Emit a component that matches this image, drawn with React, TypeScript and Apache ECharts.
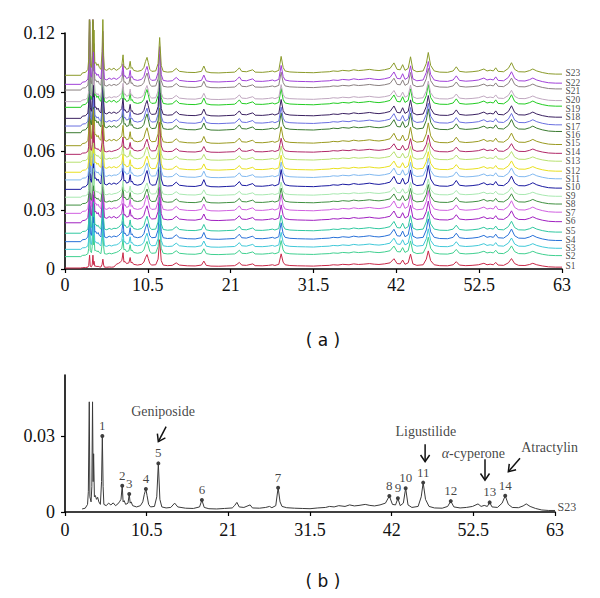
import React, { useEffect, useRef } from "react";
import * as echarts from "echarts";

// ---------- data ----------
const xTickInterval = 10.5;
const xMax = 63;
const yMaxA = 0.12;
const yIntervalA = 0.03;
const yTicksB = [0, 0.03];

// chromatogram profile of the reference sample (time min, absorbance AU)
const profile: [number, number][] = [
  [0, 0], [2.0, 0], [2.2, 0.0012], [2.6, 0.0015], [2.9, 0.003], [3.0, 0.008], [3.12, 0.0435],
  [3.2, 0.006], [3.35, 0.004], [3.45, 0.01], [3.54, 0.0435], [3.62, 0.012], [3.68, 0.023],
  [3.78, 0.006], [3.9, 0.0065], [4.05, 0.005], [4.2, 0.0058], [4.35, 0.004], [4.55, 0.003],
  [4.7, 0.012], [4.8, 0.03], [4.9, 0.01], [5.0, 0.003], [5.3, 0.0025], [5.6, 0.0035],
  [5.9, 0.0028], [6.2, 0.0036], [6.5, 0.0025], [6.8, 0.0032], [7.0, 0.004], [7.2, 0.005],
  [7.36, 0.0104], [7.47, 0.004], [7.6, 0.0045], [7.8, 0.003], [8.1, 0.0035], [8.26, 0.0071],
  [8.38, 0.0035], [8.5, 0.004], [8.7, 0.0025], [9.2, 0.002], [9.7, 0.0025], [10.0, 0.004],
  [10.2, 0.007], [10.4, 0.0091], [10.55, 0.0065], [10.75, 0.003], [11.0, 0.002], [11.5, 0.0022],
  [11.8, 0.006], [12.0, 0.0192], [12.2, 0.005], [12.45, 0.002], [13.0, 0.0016], [13.6, 0.0018],
  [14.1, 0.0035], [14.5, 0.002], [15.5, 0.0015], [16.5, 0.0014], [17.3, 0.002], [17.6, 0.0047],
  [17.9, 0.0018], [18.5, 0.0013], [19.5, 0.0012], [20.5, 0.0014], [21.5, 0.0016], [21.8, 0.0025],
  [22.1, 0.0038], [22.4, 0.002], [23.0, 0.0018], [23.8, 0.0028], [24.1, 0.0016], [25.0, 0.0015],
  [25.8, 0.0018], [26.3, 0.0022], [26.6, 0.0017], [27.1, 0.0025], [27.4, 0.0096], [27.65, 0.004],
  [27.9, 0.0022], [28.5, 0.0017], [29.5, 0.0015], [30.5, 0.0014], [31.5, 0.0013], [32.5, 0.0016],
  [33.5, 0.0018], [34.0, 0.0022], [34.6, 0.002], [35.2, 0.0025], [36.0, 0.0022], [36.6, 0.0028],
  [37.2, 0.0024], [37.8, 0.0026], [38.6, 0.003], [39.2, 0.0026], [39.8, 0.0024], [40.5, 0.0028],
  [41.2, 0.0035], [41.7, 0.0063], [42.1, 0.003], [42.5, 0.0028], [42.8, 0.0054], [43.1, 0.0025],
  [43.5, 0.0035], [43.8, 0.0094], [44.1, 0.0028], [44.6, 0.0018], [45.4, 0.0022], [45.8, 0.006],
  [46.05, 0.0116], [46.35, 0.005], [46.8, 0.0022], [47.5, 0.0016], [48.5, 0.0015], [49.2, 0.0022],
  [49.6, 0.0043], [50.0, 0.002], [50.8, 0.0016], [51.6, 0.0018], [52.4, 0.0022], [53.1, 0.0032],
  [53.5, 0.0022], [53.9, 0.0026], [54.3, 0.0022], [54.6, 0.0038], [54.9, 0.002], [55.6, 0.0018],
  [56.2, 0.0035], [56.6, 0.0064], [57.0, 0.003], [57.5, 0.0018], [58.3, 0.0017], [58.9, 0.0024],
  [59.3, 0.0032], [59.8, 0.0022], [60.5, 0.0014], [61.3, 0.0008], [62.2, 0.0006], [63.0, 0.0006],
];

const sampleNames = [
  "S1", "S2", "S3", "S4", "S5", "S6", "S7", "S8", "S9", "S10", "S11", "S12",
  "S13", "S14", "S15", "S16", "S17", "S18", "S19", "S20", "S21", "S22", "S23",
];
const sampleColors = [
  "#c82848", "#40d090", "#40c8d8", "#2870d8", "#30c8a0", "#a020c0", "#d060e0", "#409040",
  "#a8e8b0", "#1a1aa0", "#80b8f0", "#e8e020", "#b8e070", "#b02868", "#9a9a20", "#3a7a30",
  "#6a70e0", "#3a2060", "#22cc22", "#c0a8c0", "#8a8080", "#a040d8", "#8a9a2a",
];
// baseline offsets of each stacked trace
const sampleOffsets = [
  0.0005, 0.0063, 0.01, 0.0139, 0.0182, 0.0235, 0.0283, 0.0325, 0.0365, 0.0405, 0.0453, 0.0492,
  0.0543, 0.0583, 0.0627, 0.0693, 0.0727, 0.0766, 0.0822, 0.0851, 0.091, 0.0939, 0.0985,
];
// relative size of the early (< 6.5 min) peaks and of the later peaks in each sample
const sampleEarlyScale = [
  0.15, 0.5, 0.6, 0.8, 0.7, 0.9, 0.8, 0.6, 0.5, 0.9, 0.7, 0.8,
  0.6, 0.5, 0.9, 1.0, 0.8, 0.9, 1.0, 0.7, 0.8, 0.9, 1.0,
];
const samplePeakScale = [
  0.75, 0.85, 0.9, 1.0, 0.95, 0.95, 1.0, 0.9, 0.8, 1.05, 0.95, 0.9,
  0.85, 0.85, 1.0, 1.05, 1.0, 1.0, 1.0, 0.9, 0.95, 1.0, 1.0,
];
const sampleLabelY = [
  0.0017, 0.0066, 0.0105, 0.0147, 0.0195, 0.0243, 0.0286, 0.0331, 0.0373, 0.0418, 0.0458, 0.05,
  0.0549, 0.0596, 0.0639, 0.0681, 0.0724, 0.0774, 0.0815, 0.0859, 0.0907, 0.0944, 0.0995,
];

// panel (b): numbered peaks
const peakNumbers = ["1", "2", "3", "4", "5", "6", "7", "8", "9", "10", "11", "12", "13", "14"];
const peakTimes = [4.8, 7.36, 8.26, 10.4, 12.0, 17.6, 27.4, 41.7, 42.8, 43.8, 46.05, 49.6, 54.6, 56.6];
const peakHeights = [0.03, 0.0104, 0.0071, 0.0091, 0.0192, 0.0047, 0.0096, 0.0063, 0.0054, 0.0094, 0.0116, 0.0043, 0.0038, 0.0064];

// panel (b): compound annotations
const compoundNames = ["Geniposide", "Ligustilide", "α-cyperone", "Atractylin"];
const compoundTextPos: [number, number][] = [[12.6, 0.0396], [46.4, 0.0317], [52.5, 0.0232], [62.3, 0.0256]];
const compoundArrows: [number, number, number, number][] = [
  [13.0, 0.0337, 12.0, 0.0278],
  [46.3, 0.0268, 46.3, 0.0199],
  [54.0, 0.0208, 54.0, 0.0126],
  [58.5, 0.0212, 57.0, 0.0159],
];
const referenceName = "S23";
const referenceLabelY = 0.0021;

// ---------- chart ----------
const serif = "'Liberation Serif', 'Times New Roman', serif";
const ink = "#111111";

function axisCommon(fontSize: number, margin: number) {
  return {
    axisLine: { show: true, onZero: false, lineStyle: { color: "#000", width: 1.6 } },
    axisTick: { show: true, length: 4, lineStyle: { color: "#000", width: 1.2 } },
    axisLabel: { fontFamily: serif, fontSize, color: ink, margin },
    splitLine: { show: false },
  };
}

function richLabel(fontSize: number, italicFirst = false) {
  return {
    t: { fontFamily: serif, fontSize, color: ink },
    i: { fontFamily: serif, fontSize, color: ink, fontStyle: italicFirst ? "italic" : "normal" },
  };
}

export default function App() {
  const ref = useRef<HTMLDivElement>(null);

  useEffect(() => {
    if (!ref.current) return;
    const chart = echarts.init(ref.current, null, { renderer: "svg" });

    const topYMaxClip = (yMaxA * (269 - 20)) / (269 - 33);

    const sampleSeries = sampleNames.map((name, i) => ({
      type: "line",
      name,
      xAxisIndex: 1,
      yAxisIndex: 1,
      data: profile.map(([t, v]) => [t, sampleOffsets[i] + (t < 6.5 ? sampleEarlyScale[i] : samplePeakScale[i]) * v]),
      symbol: "none",
      showSymbol: false,
      lineStyle: { color: sampleColors[i], width: 1 },
      clip: true,
      silent: true,
      z: 2,
    }));

    const option: any = {
      animation: false,
      backgroundColor: "#fff",
      textStyle: { fontFamily: serif, color: ink },
      grid: [
        { left: 65, right: 38, top: 33, bottom: 329 },
        { left: 65, right: 38, top: 20, bottom: 329 },
        { left: 65, right: 45, top: 375, bottom: 86 },
      ],
      xAxis: [
        { gridIndex: 0, type: "value", min: 0, max: xMax, interval: xTickInterval, ...axisCommon(18, 7) },
        { gridIndex: 1, type: "value", min: 0, max: xMax, show: false },
        { gridIndex: 2, type: "value", min: 0, max: xMax, interval: xTickInterval, ...axisCommon(18, 9) },
      ],
      yAxis: [
        { gridIndex: 0, type: "value", min: 0, max: yMaxA, interval: yIntervalA, ...axisCommon(18, 10) },
        { gridIndex: 1, type: "value", min: 0, max: topYMaxClip, show: false },
        {
          gridIndex: 2, type: "value", min: 0, max: 0.0541,
          axisLine: { show: true, lineStyle: { color: "#000", width: 1.6 } },
          axisTick: { show: true, length: 4, customValues: yTicksB, lineStyle: { color: "#000", width: 1.2 } },
          axisLabel: { fontFamily: serif, fontSize: 18, color: ink, margin: 10, customValues: yTicksB },
          splitLine: { show: false },
        },
      ],
      series: [
        ...sampleSeries,
        {
          type: "scatter",
          xAxisIndex: 1,
          yAxisIndex: 1,
          data: sampleNames.map((n, i) => ({ name: n, value: [xMax, sampleLabelY[i]] })),
          symbolSize: 1,
          itemStyle: { color: "rgba(0,0,0,0)" },
          clip: false,
          silent: true,
          label: {
            show: true, position: "right", distance: 3, formatter: "{t|{b}}",
            fontFamily: serif, fontSize: 9.5, lineHeight: 9, color: ink, rich: richLabel(9.5),
          },
        },
        {
          type: "line",
          xAxisIndex: 2,
          yAxisIndex: 2,
          data: profile.filter(([t]) => t >= 2.2),
          symbol: "none",
          lineStyle: { color: "#3a3a3a", width: 1 },
          clip: false,
          silent: true,
        },
        {
          type: "scatter",
          xAxisIndex: 2,
          yAxisIndex: 2,
          data: [{ name: referenceName, value: [xMax, referenceLabelY] }],
          symbolSize: 1,
          itemStyle: { color: "rgba(0,0,0,0)" },
          clip: false,
          silent: true,
          label: { show: true, position: "right", distance: 2, formatter: "{t|{b}}", color: ink, rich: richLabel(12) },
        },
        {
          type: "scatter",
          xAxisIndex: 2,
          yAxisIndex: 2,
          data: peakNumbers.map((n, i) => ({ name: n, value: [peakTimes[i], peakHeights[i]] })),
          symbol: "circle",
          symbolSize: 4,
          itemStyle: { color: ink },
          silent: true,
          label: { show: true, position: "top", distance: 2, formatter: "{t|{b}}", color: ink, rich: richLabel(13) },
        },
        {
          type: "scatter",
          xAxisIndex: 2,
          yAxisIndex: 2,
          data: compoundNames.map((n, i) => ({ name: n, value: compoundTextPos[i] })),
          symbolSize: 1,
          itemStyle: { color: "rgba(0,0,0,0)" },
          clip: false,
          silent: true,
          label: {
            show: true,
            position: "inside",
            color: ink,
            formatter: (p: any) => {
              const n: string = p.name;
              if (n.startsWith("α")) return "{i|α}{t|" + n.slice(1) + "}";
              return "{t|" + n + "}";
            },
            rich: richLabel(14, true),
          },
        },
        {
          type: "custom",
          xAxisIndex: 2,
          yAxisIndex: 2,
          data: compoundArrows,
          encode: { x: [0, 2], y: [1, 3] },
          clip: false,
          silent: true,
          renderItem: (params: any, api: any) => {
            const p1 = api.coord([api.value(0), api.value(1)]);
            const p2 = api.coord([api.value(2), api.value(3)]);
            const ang = Math.atan2(p2[1] - p1[1], p2[0] - p1[0]);
            const L = 8;
            const a = 0.6;
            const h1 = [p2[0] - L * Math.cos(ang - a), p2[1] - L * Math.sin(ang - a)];
            const h2 = [p2[0] - L * Math.cos(ang + a), p2[1] - L * Math.sin(ang + a)];
            return {
              type: "group",
              children: [
                { type: "line", shape: { x1: p1[0], y1: p1[1], x2: p2[0], y2: p2[1] }, style: { stroke: ink, lineWidth: 1.5 } },
                { type: "polyline", shape: { points: [h1, p2, h2] }, style: { stroke: ink, lineWidth: 1.5, fill: null } },
              ],
            };
          },
        },
      ],
      graphic: [
        {
          type: "text", x: 323, y: 340,
          style: { text: "( a )", font: "17px 'DejaVu Sans'", fill: ink, textAlign: "center", textVerticalAlign: "middle", align: "center", verticalAlign: "middle" },
        },
        {
          type: "text", x: 323, y: 581,
          style: { text: "( b )", font: "17px 'DejaVu Sans'", fill: ink, textAlign: "center", textVerticalAlign: "middle", align: "center", verticalAlign: "middle" },
        },
      ],
    };

    chart.setOption(option);
    return () => chart.dispose();
  }, []);

  return <div ref={ref} style={{ position: "fixed", left: 0, top: 0, width: 600, height: 598, background: "#fff" }} />;
}
